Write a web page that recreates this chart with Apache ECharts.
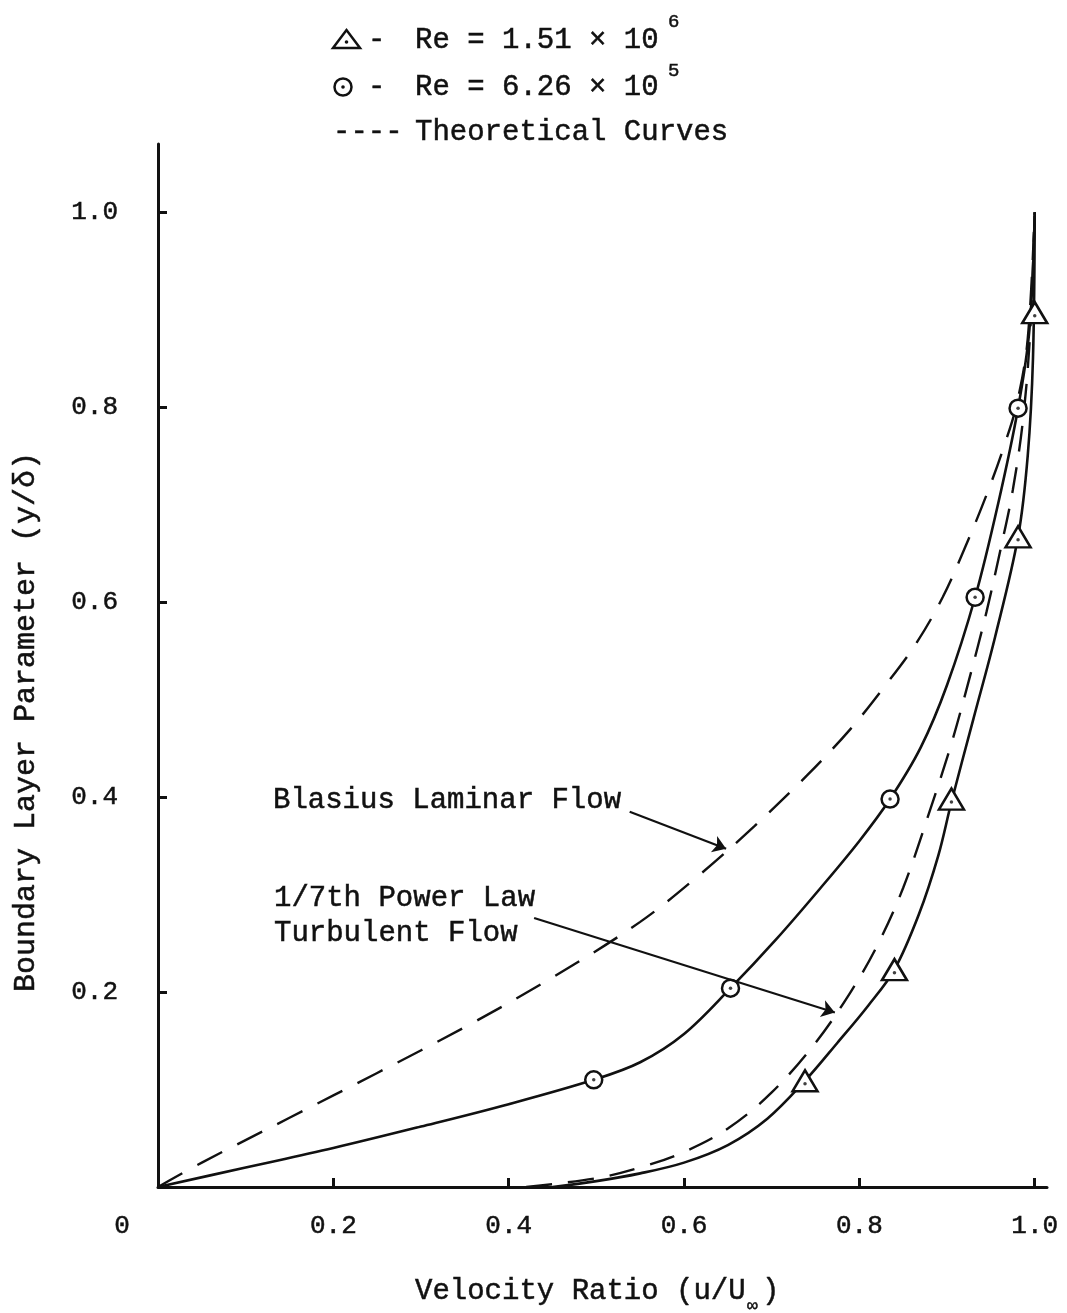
<!DOCTYPE html>
<html>
<head>
<meta charset="utf-8">
<script src="https://cdn.jsdelivr.net/npm/echarts@6/dist/echarts.min.js"></script>
<style>
  html, body { margin: 0; padding: 0; background: #ffffff; }
  #chart { width: 1067px; height: 1313px; }
</style>
</head>
<body>
<div id="chart"></div>
<script>
// Measured points, Re = 6.26 x 10^5 (circles)
const circleU = [0.497, 0.653, 0.835, 0.932, 0.981];
const circleV = [0.110, 0.204, 0.398, 0.605, 0.799];

// Measured points, Re = 1.51 x 10^6 (triangles)
const triU = [0.738, 0.840, 0.905, 0.981, 1.000];
const triV = [0.109, 0.223, 0.398, 0.667, 0.897];

// Faired curve through the circle data
const fitLowU = [0, 0.10, 0.20, 0.30, 0.40, 0.497, 0.55, 0.60, 0.653, 0.705, 0.755, 0.80, 0.835, 0.87, 0.90, 0.932, 0.958, 0.981, 0.994, 1.0];
const fitLowV = [0, 0.020, 0.040, 0.062, 0.085, 0.110, 0.128, 0.157, 0.204, 0.254, 0.306, 0.355, 0.398, 0.451, 0.515, 0.605, 0.700, 0.799, 0.880, 1.0];

// Faired curve through the triangle data
const fitHighU = [0.45, 0.50, 0.55, 0.60, 0.65, 0.695, 0.738, 0.775, 0.81, 0.840, 0.868, 0.89, 0.905, 0.93, 0.955, 0.981, 0.992, 0.998, 1.0];
const fitHighV = [0, 0.006, 0.014, 0.025, 0.043, 0.070, 0.109, 0.148, 0.186, 0.223, 0.280, 0.340, 0.395, 0.480, 0.565, 0.667, 0.750, 0.850, 1.0];

// Theoretical: Blasius laminar profile
const blasU = [0, 0.05, 0.15, 0.25, 0.35, 0.45, 0.55, 0.62, 0.68, 0.74, 0.79, 0.83, 0.865, 0.895, 0.92, 0.945, 0.965, 0.98, 0.992, 1.0];
const blasV = [0, 0.025, 0.071, 0.117, 0.164, 0.215, 0.272, 0.322, 0.370, 0.422, 0.470, 0.515, 0.558, 0.605, 0.655, 0.710, 0.760, 0.805, 0.870, 1.0];

// Theoretical: 1/7th power law turbulent profile
const powU = [0.42, 0.50, 0.55, 0.60, 0.65, 0.70, 0.75, 0.79, 0.82, 0.85, 0.88, 0.905, 0.925, 0.945, 0.96, 0.975, 0.987, 0.995, 1.0];
const powV = [0, 0.009, 0.020, 0.036, 0.060, 0.097, 0.148, 0.200, 0.247, 0.307, 0.385, 0.455, 0.520, 0.590, 0.650, 0.715, 0.790, 0.880, 1.0];

// Annotation arrows (tail, head) in data units
const blasArrow = [[0.538, 0.385], [0.648, 0.347]];
const powArrow = [[0.429, 0.276], [0.772, 0.179]];

// Tick values
const xTicks = [0.2, 0.4, 0.6, 0.8, 1.0];
const yTicks = [0.2, 0.4, 0.6, 0.8, 1.0];

const zip = (a, b) => a.map((x, i) => [x, b[i]]);
const FONT = '"Liberation Mono", "Courier New", monospace';
const INK = '#111';

const chart = echarts.init(document.getElementById('chart'), null, { renderer: 'canvas' });

const axisCommon = {
  type: 'value',
  min: 0,
  interval: 0.2,
  splitLine: { show: false },
  axisLine: { show: true, lineStyle: { color: INK, width: 3 } },
  axisTick: { show: true, inside: true, length: 9, lineStyle: { color: INK, width: 3 } },
  axisLabel: {
    color: INK, fontFamily: FONT, fontSize: 26,
    textBorderColor: INK, textBorderWidth: 0.5,
    formatter: v => v.toFixed(1)
  }
};

// typewriter-style text element
const text = (x, y, str, style, elem) => Object.assign({
  type: 'text', x: x, y: y, silent: true,
  style: Object.assign({
    text: str, fill: INK, fontFamily: FONT, fontSize: 29,
    stroke: INK, lineWidth: 0.5,
    align: 'left', verticalAlign: 'middle'
  }, style || {})
}, elem || {});

const curve = (name, u, v, dash) => ({
  name: name, type: 'line', data: zip(u, v),
  symbol: 'none', smooth: 0.35, z: 2,
  lineStyle: { color: INK, width: dash ? 2.4 : 2.6, type: dash || 'solid' }
});

const blasSeries = curve('Blasius', blasU, blasV, [28, 17]);
blasSeries.markLine = {
  silent: true, symbol: ['none', 'arrow'], symbolSize: 13,
  label: { show: false },
  lineStyle: { color: INK, width: 2.2, type: 'solid' },
  data: [
    [{ coord: blasArrow[0] }, { coord: blasArrow[1] }],
    [{ coord: powArrow[0] }, { coord: powArrow[1] }]
  ]
};

chart.setOption({
  animation: false,
  backgroundColor: '#ffffff',
  grid: { left: 158, top: 144, right: 20, bottom: 126, containLabel: false },
  xAxis: Object.assign({}, axisCommon, {
    max: 1.014,
    axisTick: Object.assign({}, axisCommon.axisTick, { customValues: xTicks }),
    axisLabel: Object.assign({}, axisCommon.axisLabel, { customValues: xTicks, margin: 26 })
  }),
  yAxis: Object.assign({}, axisCommon, {
    max: 1.07,
    axisTick: Object.assign({}, axisCommon.axisTick, { customValues: yTicks }),
    axisLabel: Object.assign({}, axisCommon.axisLabel, { customValues: yTicks, margin: 40 })
  }),
  series: [
    blasSeries,
    curve('Power law', powU, powV, [26, 16]),
    curve('Fit 6.26e5', fitLowU, fitLowV),
    curve('Fit 1.51e6', fitHighU, fitHighV),
    {
      name: 'Re = 6.26e5', type: 'scatter', data: zip(circleU, circleV),
      symbol: 'circle', symbolSize: 17, z: 4,
      itemStyle: { color: '#fff', borderColor: INK, borderWidth: 2.5, opacity: 1 }
    },
    {
      name: 'Re = 1.51e6', type: 'scatter', data: zip(triU, triV),
      symbol: 'triangle', symbolSize: [25, 21], z: 4,
      itemStyle: { color: '#fff', borderColor: INK, borderWidth: 2.5, opacity: 1 }
    },
    {
      name: 'circle dots', type: 'scatter', data: zip(circleU, circleV),
      symbol: 'circle', symbolSize: 3.5, z: 5,
      itemStyle: { color: INK }
    },
    {
      name: 'triangle dots', type: 'scatter', data: zip(triU, triV),
      symbol: 'circle', symbolSize: 3.5, symbolOffset: [0, 3], z: 5,
      itemStyle: { color: INK }
    }
  ],
  graphic: [
    // key
    { type: 'polygon', silent: true, shape: { points: [[333, 48], [360, 48], [346.5, 30]] },
      style: { fill: '#fff', stroke: INK, lineWidth: 2.5 } },
    { type: 'circle', silent: true, shape: { cx: 346.5, cy: 42, r: 1.8 }, style: { fill: INK } },
    text(368, 40, '-'),
    text(415, 40, 'Re = 1.51 × 10'),
    text(668, 22, '6', { fontSize: 19 }),

    { type: 'circle', silent: true, shape: { cx: 343, cy: 87, r: 8.5 },
      style: { fill: '#fff', stroke: INK, lineWidth: 2.5 } },
    { type: 'circle', silent: true, shape: { cx: 343, cy: 87, r: 1.8 }, style: { fill: INK } },
    text(368, 87, '-'),
    text(415, 87, 'Re = 6.26 × 10'),
    text(668, 71, '5', { fontSize: 19 }),

    text(333, 132, '----'),
    text(415, 132, 'Theoretical Curves'),

    // curve annotations
    text(273, 800, 'Blasius Laminar Flow'),
    text(274, 898, '1/7th Power Law'),
    text(274, 933, 'Turbulent Flow'),

    // origin label
    text(122, 1226, '0', { fontSize: 26, align: 'center' }),

    // axis titles
    text(415, 1291, 'Velocity Ratio (u/U'),
    text(747, 1306, '∞', { fontSize: 18 }),
    text(762, 1291, ')'),
    text(26, 722, 'Boundary Layer Parameter (y/δ)', { align: 'center', fontSize: 30 }, { rotation: Math.PI / 2 })
  ]
});
</script>
</body>
</html>
